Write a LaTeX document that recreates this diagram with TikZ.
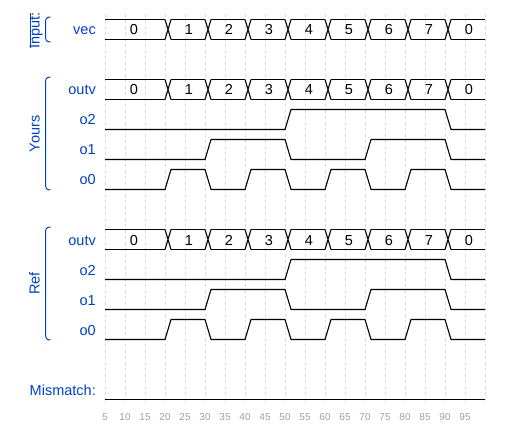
\documentclass[tikz,border=0pt]{standalone}
\usepackage{fontspec}
\setmainfont{Liberation Sans}
\definecolor{wblue}{HTML}{0041C4}
\definecolor{wgrid}{HTML}{DDDDDD}
\definecolor{wtick}{HTML}{A0A0A0}
\newcommand\busrow[2]{% #1 top y, #2 name
  \draw[sig] (105,#1) -- (165,#1) (105,#1+20) -- (165,#1+20);
  \foreach \c in {165,205,...,445}{
    \draw[sig] (\c,#1) -- (\c+6,#1+20) (\c,#1+20) -- (\c+6,#1);
  }
  \foreach \c in {165,205,...,405}{
    \draw[sig] (\c+6,#1) -- (\c+40,#1) (\c+6,#1+20) -- (\c+40,#1+20);
  }
  \draw[sig] (451,#1) -- (485,#1) (451,#1+20) -- (485,#1+20);
  \node[dat] (#2-d0) at (134,#1+15.5) {0};
  \foreach \v [count=\k from 0] in {1,...,7}{
    \node[dat] (#2-d\v) at (189+40*\k,#1+15.5) {\v};
  }
  \node[dat] (#2-d8) at (469,#1+15.5) {0};
}
\newcommand\bitzero[1]{%
  \draw[sig] (105,#1)--(165,#1)--(171,#1-20)--(205,#1-20)--(211,#1)--(245,#1)--(251,#1-20)--(285,#1-20)--(291,#1)--(325,#1)--(331,#1-20)--(365,#1-20)--(371,#1)--(405,#1)--(411,#1-20)--(445,#1-20)--(451,#1)--(485,#1);
}
\newcommand\bitone[1]{%
  \draw[sig] (105,#1)--(205,#1)--(211,#1-20)--(285,#1-20)--(291,#1)--(365,#1)--(371,#1-20)--(445,#1-20)--(451,#1)--(485,#1);
}
\newcommand\bittwo[1]{%
  \draw[sig] (105,#1)--(285,#1)--(291,#1-20)--(445,#1-20)--(451,#1)--(485,#1);
}
\newcommand\grpbracket[2]{%
  \draw[brk] (50.5,#1) .. controls (46,#1) and (45.5,#1+2) .. (45.5,#1+7) -- (45.5,#2-7) .. controls (45.5,#2-2) and (46,#2) .. (50.5,#2);
}
\begin{document}
\begin{tikzpicture}[x=1pt,y=-1pt,
  font=\fontsize{14.5}{17}\selectfont,
  sig/.style={line width=1.1pt, black},
  gridline/.style={wgrid, dash pattern=on 3pt off 3pt, line width=0.8pt},
  lbl/.style={anchor=base east, inner sep=0pt, text=wblue},
  grp/.style={anchor=base, inner sep=0pt, text=wblue, rotate=90},
  brk/.style={wblue, line width=1pt},
  dat/.style={anchor=base, inner sep=0pt},
  ticklbl/.style={anchor=base, inner sep=0pt, text=wtick, font=\fontsize{10}{12}\selectfont}]
\useasboundingbox[fill=white] (0,0) rectangle (510,438);
% grid
\foreach \i in {0,...,19}{
  \draw[gridline] (105+20*\i,14) -- (105+20*\i,404);
}
\foreach \i in {1,...,19}{
  \pgfmathtruncatemacro\t{5*\i}
  \node[ticklbl] (tick\i) at (105+20*\i-20,420) {\t};
}
% group labels
\node[grp] (gInput) at (39.5,30.5) {Input:};
\draw[wblue, line width=0.7pt] (30.5,13) -- (30.5,48);
\grpbracket{17}{42}
\node[grp] (gYours) at (39.5,134) {Yours};
\grpbracket{77}{190}
\node[grp] (gRef) at (39.5,283.5) {Ref};
\grpbracket{227}{340}
% signal labels
\node[lbl] (lvec) at (96,35) {vec};
\node[lbl] (ly-outv) at (96,95) {outv};
\node[lbl] (ly-o2) at (96,125) {o2};
\node[lbl] (ly-o1) at (96,155) {o1};
\node[lbl] (ly-o0) at (96,185) {o0};
\node[lbl] (lr-outv) at (96,245) {outv};
\node[lbl] (lr-o2) at (96,275) {o2};
\node[lbl] (lr-o1) at (96,305) {o1};
\node[lbl] (lr-o0) at (96,335) {o0};
\node[lbl] (lmis) at (96,395) {Mismatch:};
% waves
\busrow{19.5}{vec}
\busrow{79.5}{youtv}
\bittwo{129.5}
\bitone{159.5}
\bitzero{189.5}
\busrow{229.5}{routv}
\bittwo{279.5}
\bitone{309.5}
\bitzero{339.5}
\draw[sig] (105,399.5) -- (485,399.5);
\end{tikzpicture}
\end{document}
